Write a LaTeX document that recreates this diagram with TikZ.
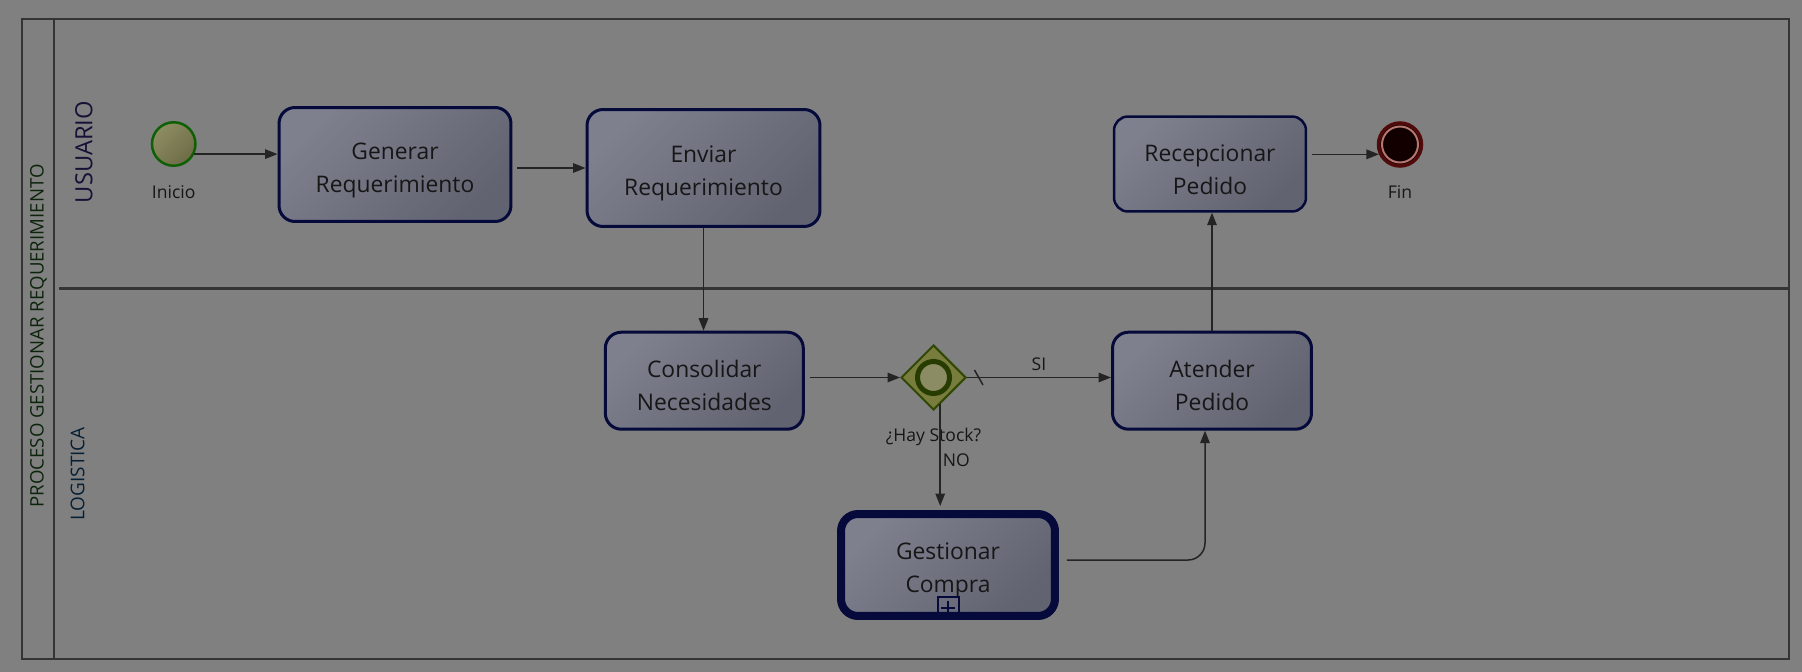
\documentclass[tikz,border=0pt]{standalone}
\usepackage{fontspec}
\setmainfont{Open Sans}
\usetikzlibrary{shapes.geometric, arrows.meta, positioning, calc}

\definecolor{bggray}{RGB}{128,128,128}
\definecolor{poolline}{RGB}{52,52,52}
\definecolor{txt}{RGB}{22,22,22}
\definecolor{taskline}{RGB}{5,10,58}
\definecolor{taskhi}{RGB}{126,128,142}
\definecolor{tasklo}{RGB}{97,99,113}
\definecolor{flowline}{RGB}{36,36,36}
\definecolor{startline}{RGB}{15,95,5}
\definecolor{starthi}{RGB}{142,140,98}
\definecolor{startlo}{RGB}{110,108,70}
\definecolor{gwline}{RGB}{50,72,5}
\definecolor{gwfill}{RGB}{120,124,60}
\definecolor{gwring}{RGB}{38,60,0}
\definecolor{gwinner}{RGB}{140,140,100}
\definecolor{finline}{RGB}{80,10,10}
\definecolor{finfill}{RGB}{18,0,0}
\definecolor{finring}{RGB}{180,118,112}
\definecolor{protitle}{RGB}{12,36,12}
\definecolor{usrtitle}{RGB}{24,16,54}
\definecolor{logtitle}{RGB}{8,32,52}

% puntal para bajar el texto de las tareas
\newcommand{\tskstrut}{\rule{0pt}{15.8pt}}

\tikzset{
  task/.style={rectangle, draw=taskline, line width=0.06cm, rounded corners=0.32cm,
               top color=taskhi, bottom color=tasklo, shading angle=45,
               align=center, text=txt, inner sep=0pt,
               font=\fontsize{13}{18.8}\selectfont},
  subtask/.style={task, line width=0.16cm, rounded corners=0.34cm},
  startev/.style={circle, draw=startline, line width=0.05cm,
                  top color=starthi, bottom color=startlo, shading angle=45,
                  minimum size=0.87cm, inner sep=0pt},
  endev/.style={circle, draw=finline, line width=0.07cm, fill=finfill,
                minimum size=0.86cm, inner sep=0pt},
  gateway/.style={diamond, draw=gwline, line width=0.04cm, fill=gwfill,
                  minimum width=1.3cm, minimum height=1.3cm, inner sep=0pt},
  evlabel/.style={font=\fontsize{10}{12}\selectfont, text=txt, inner sep=0pt},
  flow/.style={draw=flowline, line width=0.03cm, -{Triangle[length=0.25cm,width=0.19cm]}},
  lanetitle/.style={rotate=90, inner sep=0pt},
}

\begin{document}
\begin{tikzpicture}[x=0.02cm, y=-0.02cm]
  % fondo, pool y carriles
  \fill[bggray] (0,0) rectangle (1802,672);
  \coordinate (pnw) at (22,19.5);
  \coordinate (pse) at (1789,659);
  \draw[poolline, line width=0.04cm] (pnw) rectangle (pse);
  \draw[poolline, line width=0.04cm] (53.6,19.5) -- (53.6,659);
  \draw[poolline, line width=0.06cm] (59,288.5) -- (1789,288.5);

  \node[lanetitle, text=protitle, font=\fontsize{10.6}{12}\selectfont] (pool) at (38.5,336) {PROCESO GESTIONAR REQUERIMIENTO};
  \node[lanetitle, text=usrtitle, font=\fontsize{13.5}{16}\selectfont] (usr) at (84,152) {USUARIO};
  \node[lanetitle, text=logtitle, font=\fontsize{10.8}{12}\selectfont] (log) at (77.5,474) {LOGISTICA};

  % carril USUARIO
  \node[startev] (start) at (173.7,144) {};
  \node[evlabel, below=0.36cm of start] (inicio) {Inicio};
  \node[task, minimum width=4.64cm, minimum height=2.28cm] (gen) at (395,164.5) {\tskstrut Generar\\Requerimiento};
  \node[task, minimum width=4.66cm, minimum height=2.34cm] (env) at (703.5,168) {\tskstrut Enviar\\Requerimiento};
  \node[task, line width=0.05cm, rounded corners=0.28cm, minimum width=3.84cm, minimum height=1.9cm] (rec) at (1210,164) {\tskstrut Recepcionar\\Pedido};
  \node[endev] (fin) at (1400,144.5) {};
  \node[circle, draw=finring, line width=0.04cm, minimum size=0.72cm, inner sep=0pt] (finring) at (fin.center) {};
  \node[evlabel, below=0.36cm of fin] (fintxt) {Fin};

  % carril LOGISTICA
  \node[task, minimum width=3.96cm, minimum height=1.94cm] (con) at (704.3,380.7) {\tskstrut Consolidar\\Necesidades};
  \node[gateway] (gw) at (933.5,377.5) {};
  \node[circle, draw=gwring, line width=0.1cm, fill=gwinner, minimum size=0.64cm, inner sep=0pt] (gwo) at (gw.center) {};
  \node[evlabel, below=0.34cm of gw] (gwtxt) {¿Hay Stock?};
  \node[task, minimum width=3.98cm, minimum height=1.94cm] (ate) at (1212,380.7) {\tskstrut Atender\\Pedido};
  \node[subtask, minimum width=4.28cm, minimum height=2.04cm] (ges) at (948,565) {\tskstrut Gestionar\\Compra};
  \node[draw=taskline, line width=0.04cm, minimum size=0.42cm, inner sep=0pt] (gesplus) at ($(ges.south)+(0,-12)$) {};
  \draw[taskline, line width=0.04cm] ($(gesplus.center)+(-7,0)$) -- ($(gesplus.center)+(7,0)$)
                                     ($(gesplus.center)+(0,-7)$) -- ($(gesplus.center)+(0,7)$);

  % flujos
  \draw[flow] (start.-26) -- (start.-26 -| gen.west);
  \draw[flow, shorten <=0.1cm] (gen.east |- env.west) -- (env.west);
  \draw[flow] (env.south) -- (env.south |- con.north);
  \draw[flow, shorten <=0.1cm] (con.east |- gw.west) -- (gw.west);
  \draw[flow] (gw.east) -- (ate.west |- gw.east) node[evlabel, midway, above=0.12cm] (si) {SI};
  \draw[flowline, line width=0.03cm] ($(gw.east)+(7.5,-7.5)$) -- ++(8.5,15);
  \coordinate (nostart) at ($(gw.south)!0.2!(gw.east)$);
  \draw[flow, shorten >=0.08cm] (nostart) -- (nostart |- ges.north) node[evlabel, pos=0.53, right=0.04cm] (no) {NO};
  \draw[flow, rounded corners=0.34cm, shorten <=0.16cm] ([yshift=0.1cm]ges.east) -| ([xshift=-0.14cm]ate.south);
  \draw[flow] (ate.north) -- (ate.north |- rec.south);
  \draw[flow, shorten <=0.1cm] (rec.east |- fin.205) -- (fin.205);
\end{tikzpicture}
\end{document}
